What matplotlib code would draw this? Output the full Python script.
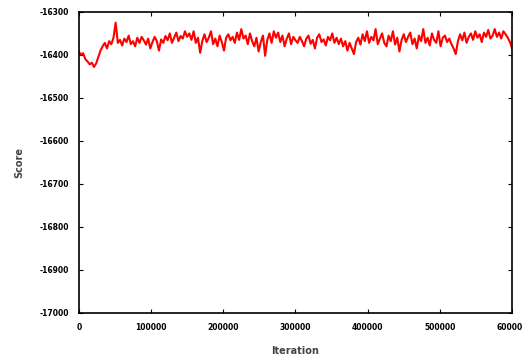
import matplotlib.pyplot as plt
import numpy as np

# score logged every 3000 iterations
step = 3000
scores = [
    -16392, -16400, -16396, -16410, -16415, -16422, -16418, -16428, -16420, -16405, -16390,
    -16380, -16372, -16385, -16368, -16375, -16360, -16325, -16372, -16365, -16378,
    -16362, -16370, -16355, -16375, -16368, -16380, -16360, -16372, -16358, -16366,
    -16376, -16362, -16385, -16370, -16358, -16368, -16390, -16364, -16372, -16356,
    -16366, -16350, -16372, -16360, -16348, -16368, -16356, -16362, -16345, -16358,
    -16350, -16365, -16345, -16372, -16360, -16395, -16368, -16352, -16370, -16360,
    -16345, -16375, -16362, -16380, -16355, -16370, -16390, -16360, -16352, -16366,
    -16358, -16372, -16348, -16365, -16340, -16362, -16355, -16375, -16350, -16368,
    -16380, -16360, -16392, -16370, -16355, -16402, -16365, -16350, -16372, -16345,
    -16360, -16348, -16370, -16355, -16380, -16362, -16350, -16375, -16358, -16366,
    -16372, -16358, -16368, -16380, -16362, -16355, -16374, -16365, -16385, -16360,
    -16352, -16370, -16364, -16378, -16358, -16366, -16350, -16372, -16360, -16375,
    -16362, -16380, -16368, -16390, -16372, -16385, -16398, -16370, -16360, -16376,
    -16352, -16368, -16345, -16372, -16358, -16366, -16340, -16375, -16362, -16350,
    -16372, -16380, -16355, -16368, -16345, -16376, -16360, -16392, -16365, -16352,
    -16370, -16358, -16348, -16375, -16362, -16385, -16355, -16368, -16340, -16372,
    -16360, -16378, -16350, -16365, -16372, -16345, -16380, -16360, -16355, -16370,
    -16362, -16375, -16385, -16398, -16368, -16352, -16366, -16348, -16372, -16358,
    -16350, -16365, -16345, -16360, -16352, -16370, -16348, -16358, -16342, -16362,
    -16355, -16340, -16358, -16348, -16362, -16345, -16352, -16360, -16370, -16385,
]
iterations = np.arange(len(scores)) * step

x_ticks = [0, 100000, 200000, 300000, 400000, 500000, 600000]
y_ticks = [-17000, -16900, -16800, -16700, -16600, -16500, -16400, -16300]

fig = plt.figure(figsize=(5.22, 3.61), dpi=100)
ax = fig.add_axes([0.151, 0.133, 0.830, 0.834])
ax.plot(iterations, scores, color='#ff0000', lw=1.5)

ax.set_xlim(0, 600000)
ax.set_ylim(-17000, -16300)
ax.set_xticks(x_ticks)
ax.set_yticks(y_ticks)
ax.set_xticklabels([str(v) for v in x_ticks], fontsize=5.5, fontweight='bold')
ax.set_yticklabels([str(v) for v in y_ticks], fontsize=5.5, fontweight='bold')
ax.tick_params(direction='in', length=3, width=0.8, top=True, right=True, pad=7)

for s in ax.spines.values():
    s.set_linewidth(1.2)

ax.set_xlabel('Iteration', fontsize=7, color='#444444', fontweight='bold', labelpad=10)
ax.set_ylabel('Score', fontsize=7, color='#444444', fontweight='bold', labelpad=11)

fig.savefig('out.png', dpi=100)
